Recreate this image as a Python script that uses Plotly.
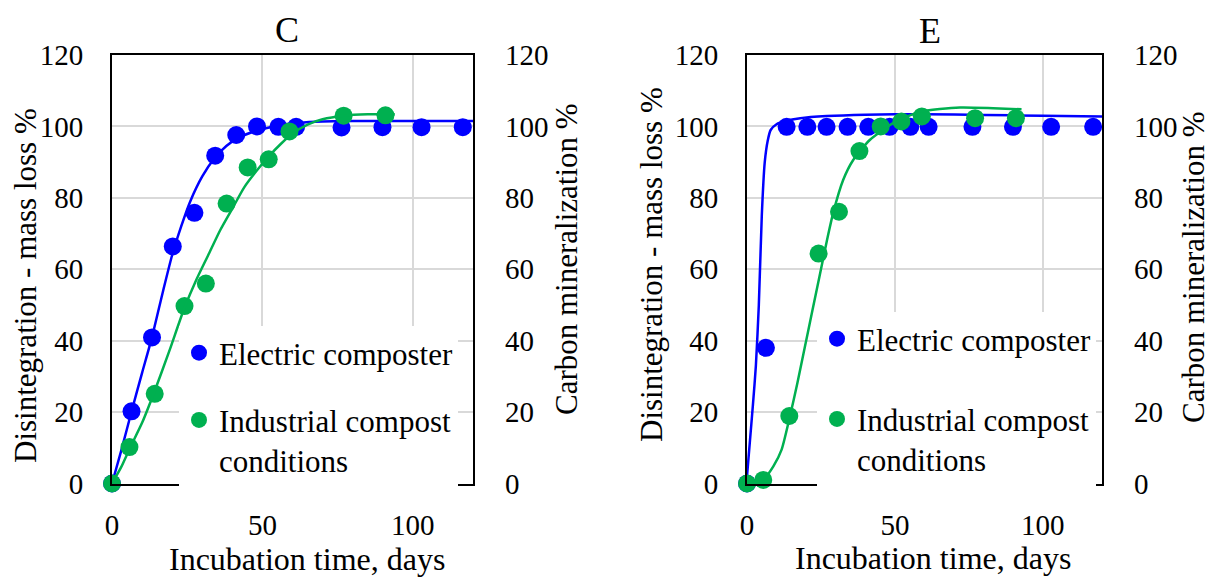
import plotly.graph_objects as go

# ---------------- Panel C ----------------
c_elec_days = [0, 6.5, 13.3, 20.2, 27.4, 34.3, 41.3, 48.2, 55.3, 61.2, 76.3, 89.9, 102.9, 116.6]
c_elec_pct = [0, 20.2, 40.9, 66.4, 75.8, 91.8, 97.6, 100.0, 99.9, 99.9, 99.7, 99.8, 99.8, 99.8]
c_ind_days = [0, 5.8, 14.2, 24.1, 31.2, 38.1, 45.1, 52.1, 59.0, 77.0, 90.9]
c_ind_pct = [0, 10.2, 25.1, 49.7, 56.0, 78.4, 88.5, 90.8, 98.6, 103.0, 103.1]

# fitted curves (Panel C)
c_elec_fit_days = [0, 3, 6.6, 10, 13.3, 17, 20, 23, 26, 30, 34, 38, 42, 48, 55, 62, 70, 80, 100, 120]
c_elec_fit_pct = [0, 9, 20.5, 31, 41, 54, 64, 72, 79, 86, 91, 94.5, 96.8, 98.8, 100.2, 101, 101.4, 101.5, 101.5, 101.5]
c_ind_fit_days = [0, 3, 6, 10, 14, 19, 24, 28, 32, 36, 40, 44, 48, 52, 56, 60, 65, 70, 77, 85, 94]
c_ind_fit_pct = [0, 4.5, 10, 17, 25.5, 37, 49, 57, 64, 71, 77, 83, 87.5, 91.5, 95, 98, 100.5, 102, 103, 103.4, 103.4]

# ---------------- Panel E ----------------
e_elec_days = [0, 6.4, 13.4, 20.4, 26.9, 34.0, 41.0, 48.2, 55.2, 61.4, 76.2, 89.9, 102.8, 117.0]
e_elec_pct = [0, 38.0, 99.9, 99.9, 99.9, 99.9, 99.9, 99.9, 99.9, 99.9, 99.9, 99.9, 99.9, 99.9]
e_ind_days = [0, 5.5, 14.3, 24.2, 31.1, 38.0, 45.2, 52.2, 59.1, 77.1, 90.9]
e_ind_pct = [0, 1.0, 18.9, 64.4, 76.1, 93.1, 100.0, 101.4, 102.8, 102.3, 102.3]

# fitted curves (Panel E)
e_elec_fit_days = [0, 1, 2, 3, 4, 5, 6, 7, 8, 10, 13, 18, 27, 40, 50, 60, 80, 100, 120]
e_elec_fit_pct = [2, 12, 22, 33, 50, 75, 90, 96, 99, 100.6, 101.5, 102.3, 102.9, 103.3, 103.4, 103.4, 103.2, 103.0, 102.8]
e_ind_fit_days = [0, 3, 5.5, 8.9, 11.7, 14.5, 17, 19.5, 22, 24.5, 27, 29.2, 32.5, 35.9, 41.5, 49.4, 58.4, 72, 83.2, 92.8]
e_ind_fit_pct = [0, 0.3, 1.1, 4.8, 9.5, 18.8, 28, 38, 48, 58, 68, 76, 85, 90.6, 96.2, 100.9, 104.1, 105.3, 105.1, 104.8]

# ---------------- styling ----------------
BLUE = "#0000FF"
GREEN = "#00B050"
GRID = "#D9D9D9"
FONT = "Liberation Serif"
TICK_SIZE = 29
TITLE_SIZE = 31
LEGEND_SIZE = 31
W, H = 1210, 578

y_ticks = [0, 20, 40, 60, 80, 100, 120]
x_ticks = [0, 50, 100]


def px(x):
    return x / W


def py(y):
    return 1 - y / H


fig = go.Figure()


def add_panel(xa, ya, legend, edays, epct, idays, ipct, efd, efp, ifd, ifp):
    fig.add_trace(go.Scatter(
        x=edays, y=epct, mode="markers", name="Electric composter",
        marker=dict(color=BLUE, size=18), xaxis=xa, yaxis=ya,
        legend=legend, legendgroup=legend + "e", cliponaxis=False,
    ))
    fig.add_trace(go.Scatter(
        x=efd, y=efp, mode="lines", line=dict(color=BLUE, width=2.5, shape="spline", smoothing=0.6),
        xaxis=xa, yaxis=ya, showlegend=False, hoverinfo="skip",
    ))
    fig.add_trace(go.Scatter(
        x=idays, y=ipct, mode="markers", name="Industrial compost<br>conditions",
        marker=dict(color=GREEN, size=18), xaxis=xa, yaxis=ya,
        legend=legend, legendgroup=legend + "i", cliponaxis=False,
    ))
    fig.add_trace(go.Scatter(
        x=ifd, y=ifp, mode="lines", line=dict(color=GREEN, width=2.5, shape="spline", smoothing=0.6),
        xaxis=xa, yaxis=ya, showlegend=False, hoverinfo="skip",
    ))


add_panel("x", "y", "legend", c_elec_days, c_elec_pct, c_ind_days, c_ind_pct,
          c_elec_fit_days, c_elec_fit_pct, c_ind_fit_days, c_ind_fit_pct)
add_panel("x2", "y3", "legend2", e_elec_days, e_elec_pct, e_ind_days, e_ind_pct,
          e_elec_fit_days, e_elec_fit_pct, e_ind_fit_days, e_ind_fit_pct)

tickfont = dict(family=FONT, size=TICK_SIZE, color="black")

xaxis_common = dict(
    range=[0, 120], tickvals=x_ticks, showgrid=True, gridcolor=GRID, gridwidth=1.5,
    zeroline=False, showline=True, linecolor="black", linewidth=2, mirror=True,
    ticks="", tickfont=tickfont, ticklabelstandoff=15, fixedrange=True, automargin=False,
)
yaxis_common = dict(
    range=[0, 120], tickvals=y_ticks, showgrid=True, gridcolor=GRID, gridwidth=1.5,
    zeroline=False, showline=True, linecolor="black", linewidth=2, mirror=True,
    ticks="", tickfont=tickfont, ticklabelstandoff=21, fixedrange=True, automargin=False,
)
yright_common = dict(
    range=[0, 120], tickvals=y_ticks, showgrid=False, zeroline=False, showline=False,
    ticks="", tickfont=tickfont, ticklabelstandoff=31, side="right", fixedrange=True,
    automargin=False,
)

dom_c = [px(112), px(473)]
dom_e = [px(747), px(1102)]
ydom = [py(483.5), py(55)]

fig.update_layout(
    width=W, height=H, margin=dict(l=0, r=0, t=0, b=0, pad=0, autoexpand=False),
    paper_bgcolor="white", plot_bgcolor="white",
    font=dict(family=FONT, color="black"),
    xaxis=dict(domain=dom_c, anchor="y", **xaxis_common),
    yaxis=dict(domain=ydom, anchor="x", **yaxis_common),
    yaxis2=dict(overlaying="y", anchor="x", **yright_common),
    xaxis2=dict(domain=dom_e, anchor="y3", **xaxis_common),
    yaxis3=dict(domain=ydom, anchor="x2", **yaxis_common),
    yaxis4=dict(overlaying="y3", anchor="x2", **yright_common),
    legend=dict(
        x=px(179), y=py(326), xanchor="left", yanchor="top",
        bgcolor="white", borderwidth=0, valign="top",
        font=dict(family=FONT, size=LEGEND_SIZE, color="black"),
        tracegroupgap=24, itemclick=False, itemdoubleclick=False,
    ),
    legend2=dict(
        x=px(817), y=py(312), xanchor="left", yanchor="top",
        bgcolor="white", borderwidth=0, valign="top",
        font=dict(family=FONT, size=LEGEND_SIZE, color="black"),
        tracegroupgap=37, itemclick=False, itemdoubleclick=False,
    ),
    showlegend=True,
)

# placeholder traces so the right-hand axes are drawn
fig.add_trace(go.Scatter(x=[None], y=[None], xaxis="x", yaxis="y2", showlegend=False))
fig.add_trace(go.Scatter(x=[None], y=[None], xaxis="x2", yaxis="y4", showlegend=False))


def label(text, x, y, angle=0, size=TITLE_SIZE):
    fig.add_annotation(
        text=text, x=px(x), y=py(y), xref="paper", yref="paper",
        xanchor="center", yanchor="middle", showarrow=False, textangle=angle,
        font=dict(family=FONT, size=size, color="black"),
    )


label("C", 287, 30, size=36)
label("E", 930, 31, size=36)
label("Disintegration - mass loss %", 25, 286, -90)
label("Carbon mineralization %", 566, 259, -90)
label("Disintegration - mass loss %", 651, 265, -90)
label("Carbon mineralization %", 1193, 267, -90)
label("Incubation time, days", 307, 559, size=32)
label("Incubation time, days", 933, 558, size=32)

fig.write_html("out.html")
